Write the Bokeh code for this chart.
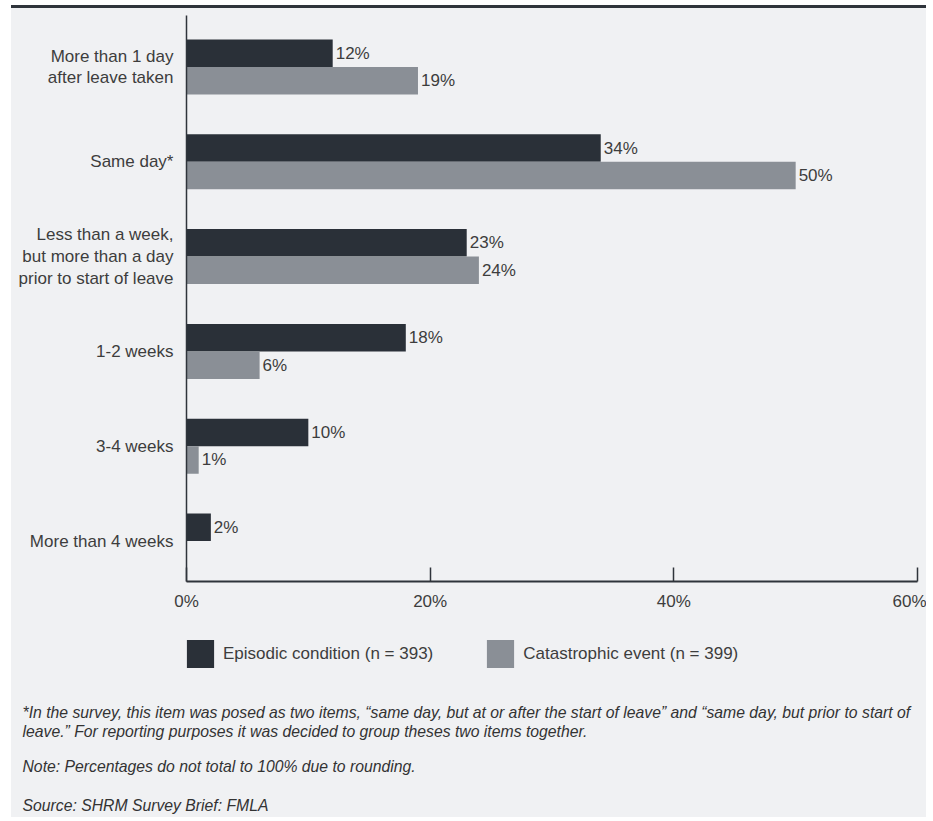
from bokeh.plotting import figure
from bokeh.models import ColumnDataSource, Range1d, FixedTicker, Legend, LegendItem, Title
from bokeh.layouts import column
from bokeh.embed import file_html
from bokeh.resources import INLINE
from bokeh.core.properties import value

# ---------------- data ----------------
categories = [
    "More than 1 day\nafter leave taken",
    "Same day*",
    "Less than a week,\nbut more than a day\nprior to start of leave",
    "1-2 weeks",
    "3-4 weeks",
    "More than 4 weeks",
]
episodic = [12, 34, 23, 18, 10, 2]
catastrophic = [19, 50, 24, 6, 1, None]
series_names = ["Episodic condition (n = 393)", "Catastrophic event (n = 399)"]
x_ticks = [0, 20, 40, 60]
x_tick_labels = ["0%", "20%", "40%", "60%"]
footnotes = [
    "*In the survey, this item was posed as two items, \u201csame day, but at or after the start of leave\u201d and \u201csame day, but prior to start of",
    "leave.\u201d For reporting purposes it was decided to group theses two items together.",
    "Note: Percentages do not total to 100% due to rounding.",
    "Source: SHRM Survey Brief: FMLA",
]

# ---------------- styles ----------------
BG = "#f0f1f3"
DARK = "#2a3038"
GREY = "#8a8f96"
TEXT = "#3d3d3d"
LINE = "#2f343b"
FONT = "Liberation Sans"
FS = "17px"
W = 915

n = len(categories)
idx = list(range(n))
BAR_H = 0.29
NAN = float("nan")


def to_num(v):
    return NAN if v is None else float(v)


def to_lab(v):
    return "" if v is None else f"{v}%"


src_e = ColumnDataSource(dict(
    y=[i - BAR_H / 2 for i in idx],
    v=[to_num(v) for v in episodic],
    lab=[to_lab(v) for v in episodic],
))
src_c = ColumnDataSource(dict(
    y=[i + BAR_H / 2 for i in idx],
    v=[to_num(v) for v in catastrophic],
    lab=[to_lab(v) for v in catastrophic],
))

# ---------------- main chart ----------------
p = figure(width=W, height=613, output_backend="svg", toolbar_location=None,
           x_range=Range1d(0, 60), y_range=Range1d(n - 1 + 0.427, -0.543),
           min_border_left=175, min_border_right=9, min_border_top=7, min_border_bottom=40,
           background_fill_color=BG, border_fill_color=BG, outline_line_color=None)
p.grid.visible = False

p.hbar(y="y", left=0, right="v", height=BAR_H, source=src_e,
       fill_color=DARK, line_color=None)
p.hbar(y="y", left=0, right="v", height=BAR_H, source=src_c,
       fill_color=GREY, line_color=None)

for s in (src_e, src_c):
    p.text(x="v", y="y", text="lab", source=s, x_offset=3,
           text_align="left", text_baseline="middle",
           text_font=value(FONT), text_font_size=FS, text_color=TEXT)

# x axis
xa = p.xaxis[0]
xa.ticker = FixedTicker(ticks=x_ticks)
xa.major_label_overrides = {t: l for t, l in zip(x_ticks, x_tick_labels)}
xa.axis_line_color = LINE
xa.axis_line_width = 2
xa.major_tick_line_color = LINE
xa.major_tick_line_width = 1.5
xa.major_tick_in = 14
xa.major_tick_out = 0
xa.minor_tick_line_color = None
xa.major_label_standoff = 10
xa.major_label_text_font = FONT
xa.major_label_text_font_size = FS
xa.major_label_text_color = TEXT

# y axis
ya = p.yaxis[0]
ya.ticker = FixedTicker(ticks=idx)
ya.major_label_overrides = {i: c for i, c in zip(idx, categories)}
ya.axis_line_color = LINE
ya.axis_line_width = 1.5
ya.major_tick_line_color = None
ya.minor_tick_line_color = None
ya.major_tick_in = 0
ya.major_tick_out = 0
ya.major_label_standoff = 13
ya.major_label_text_font = FONT
ya.major_label_text_font_size = FS
ya.major_label_text_color = TEXT
ya.major_label_text_line_height = 1.15

# ---------------- legend + notes panel ----------------
q = figure(width=W, height=196, output_backend="svg", toolbar_location=None,
           x_range=Range1d(0, 60), y_range=Range1d(0, 1),
           x_axis_type=None, y_axis_type=None,
           min_border_left=175, min_border_right=9, min_border_top=0, min_border_bottom=0,
           background_fill_color=BG, border_fill_color=BG, outline_line_color=None)
q.grid.visible = False
# legend keys: same glyph styles, no visible data (NaN row)
key_src = ColumnDataSource(dict(y=[NAN], v=[NAN]))
k_e = q.hbar(y="y", left=0, right="v", height=BAR_H, source=key_src,
             fill_color=DARK, line_color=None)
k_c = q.hbar(y="y", left=0, right="v", height=BAR_H, source=key_src,
             fill_color=GREY, line_color=None)

legend = Legend(items=[LegendItem(label=series_names[0], renderers=[k_e]),
                       LegendItem(label=series_names[1], renderers=[k_c])],
                orientation="horizontal", location=(-3, 30),
                glyph_width=34, glyph_height=35, label_standoff=6, spacing=50,
                padding=0, margin=0, border_line_color=None,
                background_fill_alpha=0,
                label_text_font=FONT, label_text_font_size=FS, label_text_color=TEXT)
q.add_layout(legend, "center")

for txt, so in zip(footnotes, [0, 0, 32, 8]):
    q.add_layout(Title(text=txt, align="left", offset=-164, standoff=so,
                       text_font=FONT, text_font_size="15.75px", text_font_style="italic",
                       text_color="#333333"), "below")

root = column(p, q, spacing=0, margin=(5, 7, 4, 11),
              styles={"border-top": f"3px solid {LINE}", "background-color": BG})

open("out.html", "w").write(file_html(root, INLINE))
